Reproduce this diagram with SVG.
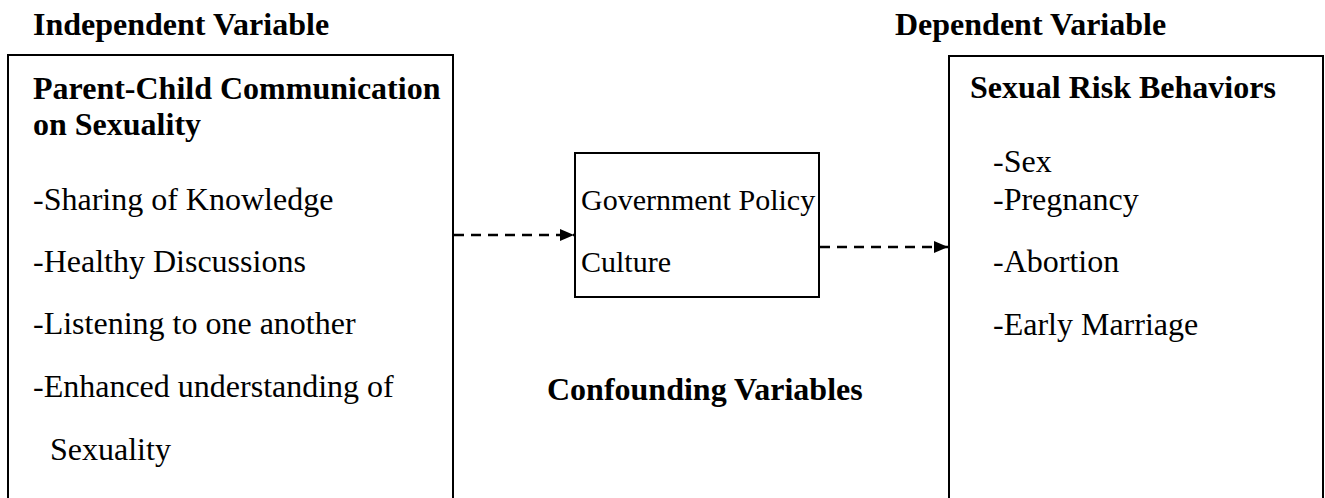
<svg xmlns="http://www.w3.org/2000/svg" width="1325" height="498" viewBox="0 0 1325 498">
<defs>
<style>
text{font-family:"Liberation Serif","Times New Roman",serif;fill:#000;font-size:32px}
.b{font-weight:bold}
.m{font-size:30px}
.box{fill:#fff;stroke:#000;stroke-width:2}
.edge{fill:none;stroke:#000;stroke-width:2.5;stroke-dasharray:10 7}
</style>
<marker id="arr" viewBox="0 0 14 12" refX="14" refY="6" markerWidth="14" markerHeight="12" markerUnits="userSpaceOnUse" orient="auto">
<path d="M0,0 L14,6 L0,12 Z" fill="#000"/>
</marker>
</defs>
<rect width="1325" height="498" fill="#fff"/>
<text class="b" x="33" y="35">Independent Variable</text>
<text class="b" x="895" y="35">Dependent Variable</text>
<g id="independent">
<rect class="box" x="8" y="55" width="445" height="460"/>
<text class="b" x="33" y="99">Parent-Child Communication</text>
<text class="b" x="33" y="135">on Sexuality</text>
<text x="33" y="210">-Sharing of Knowledge</text>
<text x="33" y="272">-Healthy Discussions</text>
<text x="33" y="334">-Listening to one another</text>
<text x="33" y="397">-Enhanced understanding of</text>
<text x="50" y="460">Sexuality</text>
</g>
<g id="confounding">
<rect class="box" x="575" y="153" width="244" height="144"/>
<text class="m" x="581" y="210">Government Policy</text>
<text class="m" x="581" y="272">Culture</text>
<text class="b" x="547" y="400">Confounding Variables</text>
</g>
<g id="dependent">
<rect class="box" x="949" y="56" width="374" height="460"/>
<text class="b" x="970" y="98">Sexual Risk Behaviors</text>
<text x="993" y="172">-Sex</text>
<text x="993" y="210">-Pregnancy</text>
<text x="993" y="272">-Abortion</text>
<text x="993" y="335">-Early Marriage</text>
</g>
<g id="connectors">
<line class="edge" x1="454" y1="235" x2="574" y2="235" marker-end="url(#arr)"/>
<line class="edge" x1="820" y1="247" x2="948" y2="247" marker-end="url(#arr)"/>
</g>
</svg>
